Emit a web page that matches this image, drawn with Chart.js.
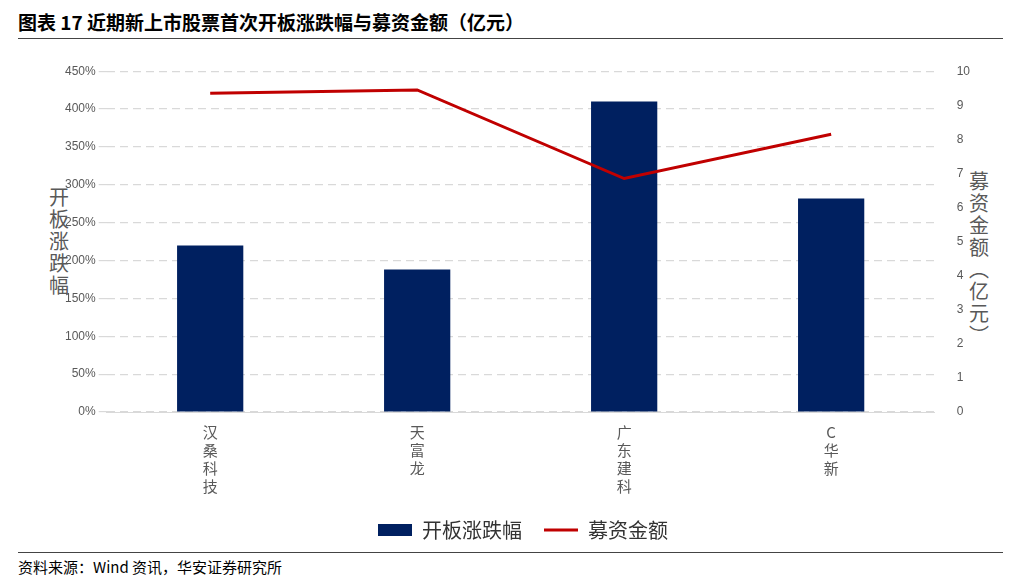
<!DOCTYPE html><html><head><meta charset="utf-8">
<script src="https://cdn.jsdelivr.net/npm/chart.js@4"></script>
<style>
body{margin:0;width:1022px;height:581px;background:#fff;font-family:"Noto Sans CJK SC","Noto Sans",sans-serif;position:relative;overflow:hidden}
#t{position:absolute;left:18px;top:8px;font-size:19px;font-weight:bold;color:#000}
.hl{position:absolute;left:18px;width:985px;height:1px;background:#444}
#src{position:absolute;left:18px;top:556px;font-size:15px;color:#000}
.vt{position:absolute;font-size:20px;color:#595959;line-height:22px;width:22px;text-align:center}
#wrap{position:absolute;left:0;top:50px;width:1022px;height:500px}
</style></head><body>
<div id="t">图表 17 近期新上市股票首次开板涨跌幅与募资金额（亿元）</div>
<div class="hl" style="top:38px"></div>
<div class="hl" style="top:552px"></div>
<div id="src">资料来源：Wind 资讯，华安证券研究所</div>
<div class="vt" style="left:48px;top:186px">开<br>板<br>涨<br>跌<br>幅</div>
<div class="vt" style="left:968px;top:170px">募<br>资<br>金<br>额<br>︵<br>亿<br>元<br>︶</div>
<div id="wrap"><canvas id="c"></canvas></div>
<script>
const categories=["汉桑科技","天富龙","广东建科","C华新"];
const changePct=[220,188,410,282];
const raised=[9.35,9.45,6.85,8.15];
new Chart(document.getElementById('c'),{
data:{labels:categories.map(s=>s.split('')),datasets:[
{type:'line',label:'募资金额',data:raised,yAxisID:'y1',borderColor:'#C00000',backgroundColor:'#C00000',borderWidth:3,pointRadius:0,pointStyle:'line',order:0},
{type:'bar',label:'开板涨跌幅',data:changePct,yAxisID:'y',backgroundColor:'#002060',barPercentage:0.32,categoryPercentage:1,pointStyle:'rect',order:1}
]},
options:{responsive:true,maintainAspectRatio:false,animation:false,
layout:{padding:{left:62,right:38,top:11,bottom:0}},
plugins:{legend:{position:'bottom',reverse:true,labels:{usePointStyle:true,pointStyleWidth:34,font:{size:20,family:"Noto Sans CJK SC"},color:'#333',boxHeight:12,padding:22}},tooltip:{enabled:false}},
scales:{
x:{grid:{display:false},border:{color:'#d9d9d9'},ticks:{maxRotation:0,font:{size:15,family:"Noto Sans CJK SC"},color:'#595959'}},
y:{min:0,max:450,ticks:{stepSize:50,callback:v=>v+'%',font:{size:12},color:'#595959'},grid:{color:'#d9d9d9',lineWidth:1.2},border:{display:false,dash:[8,5]}},
y1:{position:'right',min:0,max:10,ticks:{stepSize:1,font:{size:12},color:'#595959',padding:14},grid:{display:false},border:{display:false}}
}}});
</script></body></html>
